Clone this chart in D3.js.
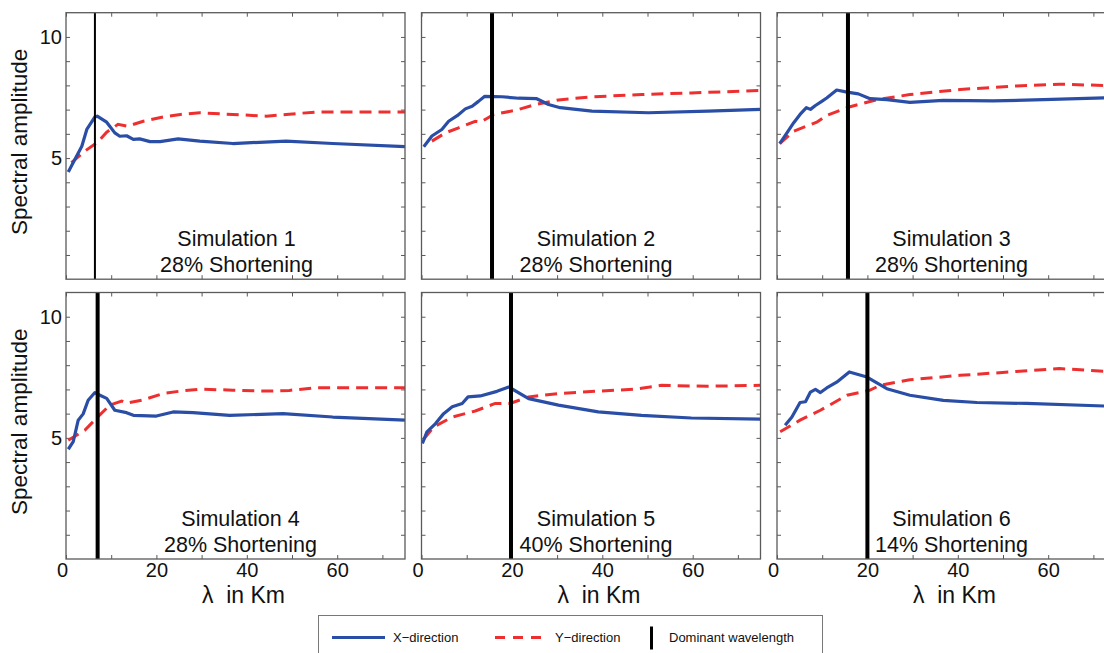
<!DOCTYPE html>
<html>
<head>
<meta charset="utf-8">
<script src="https://cdn.jsdelivr.net/npm/d3@7"></script>
<style>
  html, body { margin: 0; padding: 0; background: #fff; }
  svg { display: block; font-family: "Liberation Sans", Arial, Helvetica, sans-serif; }
</style>
</head>
<body>
<svg id="chart" width="1104" height="653"></svg>
<script>
// ---- data: spectral amplitude vs wavelength (km) ----
const simulationTitles = ["Simulation 1", "Simulation 2", "Simulation 3",
                          "Simulation 4", "Simulation 5", "Simulation 6"];
const shorteningLabels = ["28% Shortening", "28% Shortening", "28% Shortening",
                          "28% Shortening", "40% Shortening", "14% Shortening"];
const dominantWavelength = [6.4, 15.6, 15.7, 7.0, 19.8, 20.0];

const sim1X = [[0.5,4.42],[3.5,5.49],[4.6,6.18],[6.4,6.70],[6.9,6.73],[9.0,6.48],[10.8,6.04],[11.9,5.90],[13.4,5.92],[14.9,5.77],[16.3,5.79],[18.6,5.68],[20.8,5.68],[24.8,5.79],[29.6,5.70],[36.9,5.60],[48.7,5.70],[59.0,5.60],[75,5.47]];
const sim1Y = [[1.2,4.81],[4.2,5.29],[7.0,5.66],[9.0,6.07],[11.5,6.39],[13.6,6.31],[17.1,6.52],[21.5,6.70],[25.3,6.80],[29.6,6.87],[36.9,6.80],[44.3,6.73],[48.7,6.80],[55.3,6.90],[75,6.90]];

const sim2X = [[0.5,5.47],[2.3,5.91],[4.5,6.18],[6.0,6.52],[7.9,6.75],[9.7,7.03],[11.2,7.14],[12.6,7.34],[14.0,7.55],[17.8,7.53],[21.5,7.47],[25.5,7.45],[28.1,7.21],[30.7,7.08],[37.7,6.94],[50.2,6.87],[63.4,6.94],[75,7.01]];
const sim2Y = [[2.3,5.70],[5.3,6.04],[8.2,6.25],[11.9,6.52],[13.0,6.48],[16.0,6.80],[20.8,6.97],[25.2,7.21],[30.3,7.40],[37.7,7.53],[48.7,7.62],[59.7,7.69],[75,7.79]];

const sim3X = [[0.6,5.60],[2.2,6.04],[3.7,6.46],[5.1,6.80],[6.5,7.08],[7.4,7.01],[8.5,7.17],[9.9,7.34],[11.0,7.48],[13.2,7.81],[15.5,7.72],[18.0,7.65],[20.6,7.45],[24.3,7.41],[29.4,7.30],[36.8,7.38],[47.8,7.36],[58.9,7.41],[75,7.50]];
const sim3Y = [[0.6,5.60],[3.7,6.11],[8.8,6.48],[11.0,6.76],[16.2,7.12],[22.1,7.41],[29.4,7.62],[40.5,7.83],[51.5,7.96],[62.5,8.05],[75,7.98]];

const sim4X = [[0.5,4.53],[1.6,4.84],[2.7,5.73],[3.8,5.99],[4.9,6.55],[6.4,6.87],[7.5,6.76],[9.0,6.63],[10.8,6.14],[13.4,6.04],[14.9,5.93],[20.0,5.90],[23.7,6.07],[28.1,6.04],[36.2,5.93],[48.0,6.00],[59.0,5.86],[75,5.73]];
const sim4Y = [[0.5,4.90],[4.2,5.32],[7.0,5.86],[9.7,6.35],[12.3,6.52],[13.4,6.43],[17.1,6.57],[21.5,6.83],[25.3,6.93],[29.6,7.01],[36.9,6.97],[44.3,6.93],[49.4,6.96],[55.3,7.07],[75,7.07]];

const sim5X = [[0.2,4.77],[1.2,5.25],[3.1,5.59],[4.9,6.00],[6.8,6.28],[9.0,6.42],[10.3,6.69],[13.0,6.73],[16.7,6.92],[19.3,7.10],[23.7,6.62],[30.3,6.35],[39.1,6.07],[48.7,5.93],[59.7,5.82],[75,5.77]];
const sim5Y = [[0.5,4.95],[2.7,5.45],[6.8,5.86],[11.9,6.11],[16.3,6.42],[19.6,6.42],[23.7,6.69],[30.3,6.83],[39.1,6.93],[47.2,7.01],[53.1,7.17],[63.4,7.13],[75,7.17]];

const sim6X = [[1.8,5.52],[3.3,5.86],[5.1,6.46],[6.3,6.49],[7.4,6.89],[8.5,7.00],[9.6,6.87],[11.0,7.06],[13.2,7.30],[16.0,7.72],[19.9,7.51],[24.3,7.03],[29.4,6.76],[36.8,6.55],[44.2,6.46],[55.2,6.42],[75,6.30]];
const sim6Y = [[0.7,5.25],[5.1,5.73],[9.6,6.14],[15.5,6.76],[20.6,6.97],[22.8,7.17],[29.4,7.40],[40.5,7.58],[51.5,7.72],[62.5,7.86],[75,7.72]];

const xDirection = [sim1X, sim2X, sim3X, sim4X, sim5X, sim6X];
const yDirection = [sim1Y, sim2Y, sim3Y, sim4Y, sim5Y, sim6Y];

const xDomain = [0, 75];
const yDomain = [0, 11];
const xTicks = [0, 10, 20, 30, 40, 50, 60, 70];
const xTickLabels = [0, 20, 40, 60];
const yTicks = [1, 2, 3, 4, 5, 6, 7, 8, 9, 10];
const yTickLabels = [5, 10];
const legendLabels = ["X\u2212direction", "Y\u2212direction", "Dominant wavelength"];

// ---- layout ----
const svg = d3.select("#chart");
const panelW = 339, panelH = 266.5;
const colX = [66, 421.5, 777];
const rowY = [12.7, 292.5];
const blue = "#2a4ea6", red = "#ee2f2f", frameColor = "#5a5a5a";
const dominantStroke = [2, 4, 4, 4, 4, 4];

const x = d3.scaleLinear().domain(xDomain).range([0, panelW]);
const y = d3.scaleLinear().domain(yDomain).range([panelH, 0]);
const line = d3.line().x(d => x(d[0])).y(d => y(d[1]));

svg.append("defs").append("clipPath").attr("id", "panel-clip")
  .append("rect").attr("width", panelW).attr("height", panelH);

simulationTitles.forEach((title, i) => {
  const col = i % 3, row = Math.floor(i / 3);
  const g = svg.append("g").attr("transform", `translate(${colX[col]},${rowY[row]})`);

  // inward ticks on all four sides
  const tickStyle = sel => {
    sel.select(".domain").remove();
    sel.selectAll(".tick line").attr("stroke", frameColor).attr("stroke-width", 1);
    sel.selectAll(".tick text").attr("fill", "#111").attr("font-size", 20)
      .attr("font-family", "Liberation Sans, Arial, sans-serif");
  };
  const showX = row === 1, showY = col === 0;

  g.append("g").attr("transform", `translate(0,${panelH})`)
    .call(d3.axisBottom(x).tickValues(xTicks).tickSizeInner(-4).tickSizeOuter(0).tickPadding(4)
      .tickFormat(d => showX && xTickLabels.includes(d) ? d : ""))
    .call(tickStyle)
    .call(s => s.selectAll(".tick text").filter(d => d === 0).attr("dx", -4));
  g.append("g")
    .call(d3.axisTop(x).tickValues(xTicks).tickSizeInner(-4).tickSizeOuter(0).tickFormat(""))
    .call(tickStyle);
  g.append("g")
    .call(d3.axisLeft(y).tickValues(yTicks).tickSizeInner(-4).tickSizeOuter(0).tickPadding(4)
      .tickFormat(d => showY && yTickLabels.includes(d) ? d : ""))
    .call(tickStyle);
  g.append("g").attr("transform", `translate(${panelW},0)`)
    .call(d3.axisRight(y).tickValues(yTicks).tickSizeInner(-4).tickSizeOuter(0).tickFormat(""))
    .call(tickStyle);

  const plot = g.append("g").attr("clip-path", "url(#panel-clip)");
  plot.append("path").datum(yDirection[i])
    .attr("fill", "none").attr("stroke", red).attr("stroke-width", 3)
    .attr("stroke-dasharray", "12,7").attr("d", line);
  plot.append("path").datum(xDirection[i])
    .attr("fill", "none").attr("stroke", blue).attr("stroke-width", 3.2)
    .attr("stroke-linejoin", "round").attr("d", line);
  plot.append("line")
    .attr("x1", x(dominantWavelength[i])).attr("x2", x(dominantWavelength[i]))
    .attr("y1", 0).attr("y2", panelH)
    .attr("stroke", "#000").attr("stroke-width", dominantStroke[i]);

  g.append("rect").attr("width", panelW).attr("height", panelH)
    .attr("fill", "none").attr("stroke", frameColor).attr("stroke-width", 1.3);

  const cx = panelW / 2 + (col === 0 && row === 0 ? 1 : 5);
  g.append("text").attr("x", cx).attr("y", 233.5)
    .attr("text-anchor", "middle").attr("font-size", 21.5).attr("fill", "#111").text(title);
  g.append("text").attr("x", cx).attr("y", 259)
    .attr("text-anchor", "middle").attr("font-size", 21.5).attr("fill", "#111").text(shorteningLabels[i]);

  if (showY) {
    g.append("text")
      .attr("transform", `translate(-39,${panelH / 2 - 4}) rotate(-90)`)
      .attr("text-anchor", "middle").attr("font-size", 22.5).attr("fill", "#111")
      .text("Spectral amplitude");
  }
  if (showX) {
    g.append("text").attr("x", panelW / 2 + 8).attr("y", panelH + 44)
      .attr("text-anchor", "middle").attr("font-size", 23).attr("fill", "#111")
      .style("white-space", "pre").text("\u03bb  in Km");
  }
});

// ---- legend ----
const lg = svg.append("g");
lg.append("rect").attr("x", 318.5).attr("y", 615.5).attr("width", 504).attr("height", 50)
  .attr("fill", "#fff").attr("stroke", "#777").attr("stroke-width", 1);
lg.append("line").attr("x1", 332).attr("x2", 385).attr("y1", 637.5).attr("y2", 637.5)
  .attr("stroke", blue).attr("stroke-width", 3);
lg.append("line").attr("x1", 495).attr("x2", 547).attr("y1", 637.5).attr("y2", 637.5)
  .attr("stroke", red).attr("stroke-width", 3).attr("stroke-dasharray", "10,8");
lg.append("line").attr("x1", 651.5).attr("x2", 651.5).attr("y1", 626.5).attr("y2", 649.5)
  .attr("stroke", "#000").attr("stroke-width", 3);
const legendX = [393, 555, 669];
legendLabels.forEach((t, k) => {
  lg.append("text").attr("x", legendX[k]).attr("y", 642).attr("font-size", 13)
    .attr("fill", "#111").text(t);
});
</script>
</body>
</html>
